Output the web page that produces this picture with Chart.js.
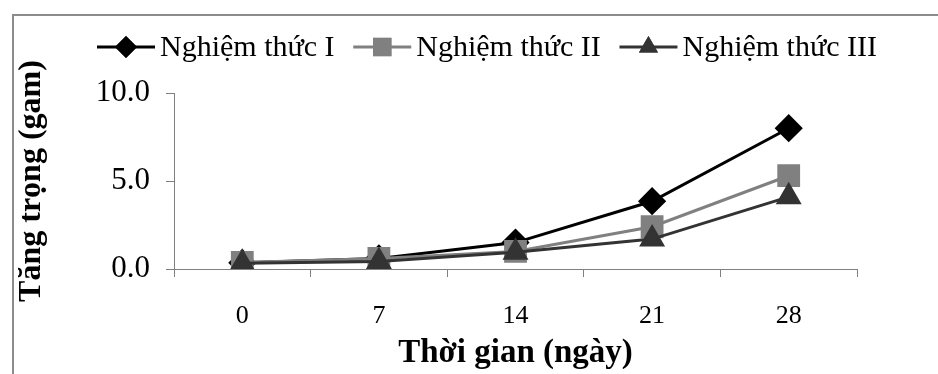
<!DOCTYPE html>
<html>
<head>
<meta charset="utf-8">
<script src="https://cdn.jsdelivr.net/npm/chart.js@4.4.1/dist/chart.umd.min.js"></script>
<style>
    body { margin: 0; background: #fff; }
    #frame { position: absolute; left: 12px; top: 14px; width: 1000px; height: 400px;
             border-left: 2px solid #8c8c8c; border-top: 2px solid #8c8c8c; }
    #growthChart { position: absolute; left: 0; top: 0; }
</style>
</head>
<body>
<div id="frame"></div>
<canvas id="growthChart" width="938" height="374"></canvas>
<script>
const days = ['0', '7', '14', '21', '28'];
const seriesNames = ['Nghiệm thức I', 'Nghiệm thức II', 'Nghiệm thức III'];
const treatment1 = [0.35, 0.6, 1.5, 3.85, 8.0];
const treatment2 = [0.37, 0.6, 1.0, 2.4, 5.3];
const treatment3 = [0.33, 0.43, 0.95, 1.7, 4.1];
const yTicks = [0, 5, 10];

const serif = "'Liberation Serif', 'Times New Roman', serif";

// legend with line + marker, drawn across the top
const lineLegend = {
    id: 'lineLegend',
    afterDraw(chart) {
        const ctx = chart.ctx;
        const y = 47;
        const lineLen = 58, gap = 5;
        ctx.save();
        ctx.font = '30px ' + serif;
        const items = chart.data.datasets.map(ds => ({
            ds: ds,
            w: lineLen + gap + ctx.measureText(ds.label).width
        }));
        const left = 97, right = 877;
        const total = items.reduce((s, it) => s + it.w, 0);
        const spacing = (right - left - total) / (items.length - 1);
        let x = left;
        items.forEach(it => {
            const ds = it.ds;
            ctx.strokeStyle = ds.borderColor;
            ctx.lineWidth = 3;
            ctx.beginPath();
            ctx.moveTo(x, y);
            ctx.lineTo(x + lineLen, y);
            ctx.stroke();
            ctx.fillStyle = ds.pointBackgroundColor;
            Chart.helpers.drawPoint(ctx, {
                pointStyle: ds.pointStyle,
                radius: ds.pointRadius - 1,
                rotation: 0,
                borderWidth: 0
            }, x + lineLen / 2, y);
            ctx.fill();
            ctx.fillStyle = '#000';
            ctx.textBaseline = 'middle';
            ctx.textAlign = 'left';
            ctx.fillText(ds.label, x + lineLen + gap, y + 1);
            x += it.w + spacing;
        });
        ctx.restore();
    }
};

new Chart(document.getElementById('growthChart'), {
    type: 'line',
    data: {
        labels: days,
        datasets: [{
            label: seriesNames[0],
            data: treatment1,
            borderColor: '#000000',
            pointBackgroundColor: '#000000',
            pointBorderColor: '#000000',
            pointStyle: 'rectRot',
            pointRadius: 12,
            borderWidth: 3,
            order: 2
        }, {
            label: seriesNames[1],
            data: treatment2,
            borderColor: '#808080',
            pointBackgroundColor: '#808080',
            pointBorderColor: '#808080',
            pointStyle: 'rect',
            pointRadius: 14,
            borderWidth: 3,
            order: 1
        }, {
            label: seriesNames[2],
            data: treatment3,
            borderColor: '#333333',
            pointBackgroundColor: '#333333',
            pointBorderColor: '#333333',
            pointStyle: 'triangle',
            pointRadius: 12,
            borderWidth: 3,
            order: 0
        }]
    },
    options: {
        responsive: false,
        animation: false,
        layout: { padding: { left: 13, right: 81, top: 93, bottom: 0 } },
        plugins: {
            legend: { display: false },
            tooltip: { enabled: false }
        },
        scales: {
            x: {
                offset: true,
                afterFit: s => { s.height = 105; },
                grid: { offset: true, drawOnChartArea: false, color: '#808080', tickLength: 8 },
                border: { color: '#808080', width: 1 },
                ticks: { color: '#000', padding: 24, font: { family: serif, size: 26 } },
                title: {
                    display: true,
                    text: 'Thời gian (ngày)',
                    color: '#000',
                    padding: { top: 0, bottom: 1 },
                    font: { family: serif, size: 33, weight: 'bold' }
                }
            },
            y: {
                min: 0,
                max: 10,
                afterFit: s => { s.width = 161; },
                afterBuildTicks: s => { s.ticks = yTicks.map(v => ({ value: v })); },
                grid: { drawOnChartArea: false, color: '#808080', tickLength: 8 },
                border: { color: '#808080', width: 1 },
                ticks: {
                    color: '#000',
                    padding: 16,
                    font: { family: serif, size: 31 },
                    callback: v => v.toFixed(1)
                },
                title: {
                    display: true,
                    text: 'Tăng trọng (gam)',
                    color: '#000',
                    padding: { top: 0, bottom: 0 },
                    font: { family: serif, size: 32, weight: 'bold' }
                }
            }
        }
    },
    plugins: [lineLegend]
});
</script>
</body>
</html>
